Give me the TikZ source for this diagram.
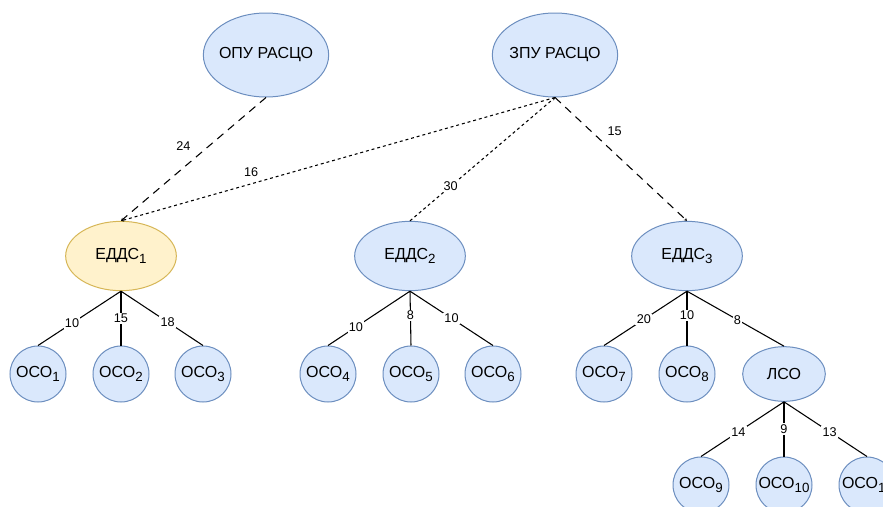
\documentclass[tikz,border=0pt]{standalone}
\usepackage{fontspec}
\setmainfont{Liberation Sans}
\usepackage{xcolor}
\usepackage{tikz}
\usetikzlibrary{shapes.geometric}
\usetikzlibrary{arrows.meta}

\definecolor{nodefill}{HTML}{DAE8FC}
\definecolor{nodeline}{HTML}{6C8EBF}
\definecolor{hlfill}{HTML}{FFF2CC}
\definecolor{hlline}{HTML}{D6B656}

% index under the name, a bit larger than \textsubscript
\newcommand{\idx}[1]{\raisebox{-3pt}{\fontsize{10}{12}\selectfont #1}}

\begin{document}
\begin{tikzpicture}[x=0.75pt, y=-0.75pt, >={Stealth[length=2.2pt,width=2.4pt]},
  hub/.style={ellipse, draw=nodeline, fill=nodefill, line width=0.75pt, inner sep=0pt, minimum width=94pt, minimum height=63pt, font=\fontsize{12}{14}\selectfont},
  edds/.style={hub, minimum width=83pt, minimum height=52pt},
  lso/.style={hub, minimum width=62pt, minimum height=41pt},
  oso/.style={circle, draw=nodeline, fill=nodefill, line width=0.75pt, inner sep=0pt, minimum size=42pt, font=\fontsize{12}{14}\selectfont},
  weight/.style={fill=white, inner sep=1pt, font=\fontsize{9.5}{11}\selectfont},
  link/.style={line width=0.8pt},
  longdash/.style={link, dash pattern=on 6pt off 4.5pt},
  shortdash/.style={link, dash pattern=on 2.2pt off 2.2pt}]
\clip (0,0) rectangle (883,507);
% control points
\node[hub] (opu) at (266,55) {\makebox[0pt]{ОПУ РАСЦО}};
\node[hub] (zpu) at (555,55) {\makebox[0pt]{ЗПУ РАСЦО}};
% regional dispatch centres
\node[edds, draw=hlline, fill=hlfill] (e1) at (121,256) {ЕДДС\idx{1}};
\node[edds] (e2) at (410,256) {ЕДДС\idx{2}};
\node[edds] (e3) at (687,256) {ЕДДС\idx{3}};
% warning sites
\node[oso] (o1) at (38,374) {ОСО\idx{1}};
\node[oso] (o2) at (121,374) {ОСО\idx{2}};
\node[oso] (o3) at (203,374) {ОСО\idx{3}};
\node[oso] (o4) at (328,374) {ОСО\idx{4}};
\node[oso] (o5) at (411,374) {ОСО\idx{5}};
\node[oso] (o6) at (493,374) {ОСО\idx{6}};
\node[oso] (o7) at (604,374) {ОСО\idx{7}};
\node[oso] (o8) at (687,374) {ОСО\idx{8}};
\node[lso] (lso) at (784,374) {ЛСО};
\node[oso] (o9) at (701,485) {ОСО\idx{9}};
\node[oso] (o10) at (784,485) {\makebox[0pt]{ОСО\idx{10}}};
\node[oso] (o11) at (867,485) {\makebox[0pt]{ОСО\idx{11}}};

% upper links
\draw[longdash, ->] (opu.south) -- node[pos=0.39, weight, xshift=-19.5pt] {24} (e1.north);
\draw[shortdash, ->] (zpu.south) -- node[pos=0.7, weight, yshift=9pt] {16} (e1.north);
\draw[shortdash, ->] (e2.north) -- node[pos=0.28, weight] {30} (zpu.south);
\draw[longdash, ->] (zpu.south) -- node[pos=0.27, weight, xshift=18pt] {15} (e3.north);

% lower links
\draw[link] (e1.south) -- node[pos=0.59, weight] {10} (o1.north);
\draw[link] (e1.south) -- node[pos=0.5, weight] {15} (o2.north);
\draw[link] (e1.south) -- node[pos=0.57, weight] {18} (o3.north);
\draw[link] (e2.south) -- node[pos=0.66, weight] {10} (o4.north);
\draw[link] (e2.south) -- node[pos=0.45, weight] {8} (o5.north);
\draw[link] (e2.south) -- node[pos=0.5, weight] {10} (o6.north);
\draw[link] (e3.south) -- node[pos=0.52, weight] {20} (o7.north);
\draw[link] (e3.south) -- node[pos=0.45, weight] {10} (o8.north);
\draw[link] (e3.south) -- node[pos=0.52, weight] {8} (lso.north);
\draw[link] (lso.south) -- node[pos=0.55, weight] {14} (o9.north);
\draw[link] (lso.south) -- node[pos=0.5, weight] {9} (o10.north);
\draw[link] (lso.south) -- node[pos=0.55, weight] {13} (o11.north);
\end{tikzpicture}
\end{document}
